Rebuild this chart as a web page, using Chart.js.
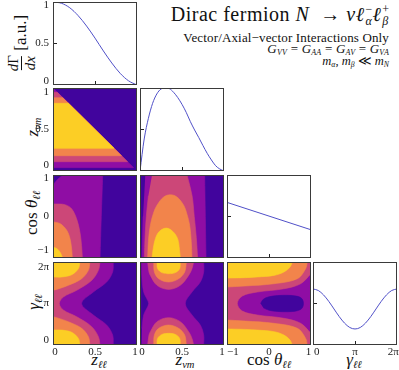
<!DOCTYPE html>
<html>
<head>
<meta charset="utf-8">
<script src="https://cdn.jsdelivr.net/npm/chart.js@4.4.1/dist/chart.umd.min.js"></script>
<style>
  body { margin: 0; background: #fff; }
  #fig { position: relative; width: 399px; height: 370px; overflow: hidden; font-family: "Liberation Serif", "DejaVu Serif", serif; color: #111; }
  .box { position: absolute; }
  .frame { position: absolute; border: 1px solid #3a3a3a; box-sizing: border-box; pointer-events: none; }
  .txt { position: absolute; white-space: nowrap; line-height: 1; }
  .head { right: 10px; text-align: right; }
  .ss { display: inline-block; font-size: 0.6em; line-height: 1; vertical-align: -0.3em; text-align: left; margin-left: 1px; letter-spacing: 0; }
  .ss > span { display: block; }
  .xt { font-size: 17px; transform: translateX(-50%); }
  .yt { font-size: 17px; transform: translate(-50%, -50%) rotate(-90deg); }
  sub { font-size: 0.62em; vertical-align: -0.3em; line-height: 0; }
  .frac { display: inline-flex; flex-direction: column; align-items: center; vertical-align: middle; font-size: 15px; }
  .frac span + span { border-top: 1px solid #111; padding-top: 1px; }
</style>
</head>
<body>
<div id="fig">
  <div class="txt head" style="top:3px;font-size:20px;letter-spacing:0.5px">Dirac fermion <i>N</i>&nbsp; → <i>ν</i><i>ℓ</i><span class="ss"><span>−</span><span><i>α</i></span></span><i>ℓ</i><span class="ss"><span>+</span><span><i>β</i></span></span></div>
  <div class="txt head" style="top:31px;font-size:13px;letter-spacing:0.15px">Vector/Axial−vector Interactions Only</div>
  <div class="txt head" style="top:42px;font-size:13px;letter-spacing:0.2px"><i>G</i><sub><i>VV</i></sub> = <i>G</i><sub><i>AA</i></sub> = <i>G</i><sub><i>AV</i></sub> = <i>G</i><sub><i>VA</i></sub></div>
  <div class="txt head" style="top:55px;font-size:12.5px"><i>m</i><sub><i>α</i></sub>, <i>m</i><sub><i>β</i></sub> ≪ <i>m</i><sub><i>N</i></sub></div>

  <div class="txt xt" style="left:99px;top:351px"><i>z</i><sub><i>ℓℓ</i></sub></div>
  <div class="txt xt" style="left:185px;top:351px"><i>z</i><sub><i>νm</i></sub></div>
  <div class="txt xt" style="left:269px;top:351px">cos <i>θ</i><sub><i>ℓℓ</i></sub></div>
  <div class="txt xt" style="left:354px;top:351px"><i>γ</i><sub><i>ℓℓ</i></sub></div>

  <div class="txt yt" style="left:22px;top:43px"><span class="frac"><span><i>d</i>Γ</span><span><i>dx</i></span></span> [a.u.]</div>
  <div class="txt yt" style="left:32px;top:127px"><i>z</i><sub><i>νm</i></sub></div>
  <div class="txt yt" style="left:31px;top:213px">cos <i>θ</i><sub><i>ℓℓ</i></sub></div>
  <div class="txt yt" style="left:33px;top:302px"><i>γ</i><sub><i>ℓℓ</i></sub></div>
</div>
<script>
// ---- 1D distributions (diagonal) ----
const zllGrid = [0, 0.1, 0.2, 0.3, 0.4, 0.5, 0.6, 0.7, 0.8, 0.9, 1];
const zllDensity = [1.0, 0.985, 0.93, 0.835, 0.71, 0.565, 0.41, 0.265, 0.14, 0.05, 0.0];

const znmGrid = [0, 0.05, 0.1, 0.15, 0.2, 0.25, 0.3, 0.35, 0.4, 0.45, 0.5,
                 0.55, 0.6, 0.65, 0.7, 0.75, 0.8, 0.85, 0.9, 0.95, 1];
const znmDensity = [0, 0.386, 0.635, 0.815, 0.928, 0.988, 1.0, 0.992, 0.948, 0.884, 0.803,
                    0.707, 0.594, 0.494, 0.402, 0.305, 0.213, 0.133, 0.064, 0.024, 0.0];

const cosGrid = [-1, 0, 1];
const cosDensity = [0.67, 0.505, 0.34];

const gammaGrid = [0, 0.393, 0.785, 1.178, 1.571, 1.963, 2.356, 2.749, 3.142,
                   3.534, 3.927, 4.320, 4.712, 5.105, 5.498, 5.890, 6.283];
const gammaDensity = [0.675, 0.657, 0.604, 0.526, 0.434, 0.342, 0.264, 0.211, 0.193,
                      0.211, 0.264, 0.342, 0.434, 0.526, 0.604, 0.657, 0.675];

// ---- 2D filled contours: [level, outline points] in paint order ----
const zllZnmRegions = [
  [1, [[0, 0.04], [0.96, 0.04], [0, 1]]],
  [2, [[0, 0.112], [0.888, 0.112], [0.052, 0.948], [0, 0.948]]],
  [3, [[0, 0.184], [0.816, 0.184], [0.117, 0.883], [0, 0.883]]],
  [4, [[0, 0.273], [0.727, 0.273], [0.184, 0.816], [0, 0.816]]]
];

const zllCosRegions = [
  [1, [[0, 0.75], [0.04, 0.86], [0.08, 0.94], [0.115, 1], [0.592, 1], [0.575, 0], [0.56, -1], [0, -1]]],
  [2, [[0, 0.30], [0.08, 0.30], [0.15, 0.28], [0.22, 0.19], [0.28, -0.05], [0.32, -0.37], [0.34, -0.7], [0.35, -1], [0, -1]]],
  [3, [[0, -0.13], [0.083, -0.17], [0.163, -0.33], [0.202, -0.53], [0.222, -0.78], [0.23, -1], [0, -1]]],
  [4, [[0, -0.735], [0.05, -0.78], [0.09, -0.88], [0.115, -1], [0, -1]]]
];

const znmCosRegions = [
  [1, [[0.063, 1], [0.77, 1], [0.778, 0], [0.786, -1], [0.024, -1], [0.036, 0]]],
  [2, [[0.143, 1], [0.56, 1], [0.62, 0.5], [0.646, 0], [0.67, -0.5], [0.686, -1], [0.052, -1], [0.06, -0.5], [0.075, 0], [0.1, 0.5]]],
  [3, [[0.091, -1], [0.1, -0.6], [0.123, -0.21], [0.16, 0.08], [0.202, 0.27], [0.282, 0.47], [0.361, 0.525], [0.44, 0.47], [0.52, 0.27], [0.56, 0.05], [0.591, -0.21], [0.61, -0.6], [0.619, -1]]],
  [4, [[0.143, -1], [0.155, -0.8], [0.183, -0.535], [0.23, -0.36], [0.313, -0.28], [0.39, -0.36], [0.448, -0.535], [0.47, -0.8], [0.48, -1]]]
];

const zllGammaRegions = [
  [1, [[0, 0], [0.718, 0], [0.71, 0.75], [0.639, 1.51], [0.48, 2.27], [0.341, 3.142], [0.48, 4.01], [0.639, 4.77], [0.71, 5.53], [0.718, 6.283], [0, 6.283]]],
  [2, [[0, 0], [0.56, 0], [0.54, 0.63], [0.46, 1.39], [0.282, 2.14], [0.123, 2.65], [0.075, 3.142], [0.123, 3.63], [0.282, 4.14], [0.46, 4.89], [0.54, 5.65], [0.56, 6.283], [0, 6.283]]],
  [3, [[0, 4.14], [0.044, 4.21], [0.183, 4.52], [0.341, 5.02], [0.421, 5.65], [0.44, 6.283], [0, 6.283]]],
  [3, [[0, 0], [0.44, 0], [0.421, 0.63], [0.341, 1.26], [0.183, 1.76], [0.044, 2.07], [0, 2.14]]],
  [4, [[0, 5.15], [0.103, 5.15], [0.222, 5.32], [0.302, 5.78], [0.321, 6.283], [0, 6.283]]],
  [4, [[0, 0], [0.321, 0], [0.302, 0.5], [0.222, 0.96], [0.103, 1.13], [0, 1.13]]]
];

const znmGammaRegions = [
  [1, [[0.02, 0], [0.758, 0], [0.758, 0.75], [0.718, 1.51], [0.619, 2.27], [0.54, 3.142], [0.619, 4.01], [0.718, 4.77], [0.758, 5.53], [0.758, 6.283],
       [0.02, 6.283], [0.024, 5.02], [0.044, 4.01], [0.091, 3.38], [0.103, 3.142], [0.091, 2.9], [0.044, 2.27], [0.024, 1.26]]],
  [2, [[0.091, 6.283], [0.107, 5.53], [0.123, 5.27], [0.202, 4.52], [0.341, 4.21], [0.48, 4.52], [0.579, 5.27], [0.619, 5.78], [0.639, 6.283]]],
  [2, [[0.091, 0], [0.107, 0.75], [0.123, 1.01], [0.202, 1.76], [0.341, 2.07], [0.48, 1.76], [0.579, 1.01], [0.619, 0.5], [0.639, 0]]],
  [3, [[0.163, 6.283], [0.171, 5.53], [0.222, 5.02], [0.341, 4.77], [0.46, 5.02], [0.532, 5.53], [0.552, 6.283]]],
  [3, [[0.163, 0], [0.171, 0.75], [0.222, 1.26], [0.341, 1.51], [0.46, 1.26], [0.532, 0.75], [0.552, 0]]],
  [4, [[0.202, 6.283], [0.21, 5.78], [0.262, 5.48], [0.341, 5.40], [0.421, 5.48], [0.472, 5.78], [0.48, 6.283]]],
  [4, [[0.202, 0], [0.21, 0.5], [0.262, 0.8], [0.341, 0.88], [0.421, 0.8], [0.472, 0.5], [0.48, 0]]]
];

const cosGammaRegions = [
  [0, [[-0.2, 3.142], [-0.14, 3.45], [0, 3.65], [0.2, 3.74], [0.45, 3.76], [0.65, 3.7], [0.78, 3.52], [0.82, 3.142],
       [0.78, 2.76], [0.65, 2.58], [0.45, 2.52], [0.2, 2.54], [0, 2.63], [-0.14, 2.83]]],
  [2, [[-1, 0], [1, 0], [1, 0.88], [0.754, 1.64], [0.357, 2.02], [-0.278, 2.27], [-0.635, 2.57], [-0.754, 3.142],
       [-0.635, 3.71], [-0.278, 4.01], [0.357, 4.26], [0.754, 4.64], [1, 5.40], [1, 6.283], [-1, 6.283]]],
  [3, [[-1, 4.39], [-0.563, 4.47], [0.119, 4.64], [0.675, 5.02], [0.873, 5.78], [0.913, 6.283], [-1, 6.283]]],
  [3, [[-1, 0], [0.913, 0], [0.873, 0.5], [0.675, 1.26], [0.119, 1.64], [-0.563, 1.81], [-1, 1.89]]],
  [4, [[-1, 5.07], [-0.563, 5.1], [-0.278, 5.15], [0.119, 5.27], [0.357, 5.53], [0.5, 5.9], [0.556, 6.283], [-1, 6.283]]],
  [4, [[-1, 0], [0.556, 0], [0.5, 0.38], [0.357, 0.75], [0.119, 1.01], [-0.278, 1.13], [-0.563, 1.18], [-1, 1.21]]]
];

// ---- tick labels ----
const zLabels = ['0', '0.5', '1'];
const cosLabels = ['\u22121', '0', '1'];
const gammaLabels = ['0', 'π', '2π'];

const LEVEL_COLORS = ['#41049d', '#8f0da4', '#cc4778', '#f2844b', '#fcce25'];
const CURVE_COLOR = '#5050c8';
const TICK_FONT = { family: '"Liberation Serif", "DejaVu Serif", serif', size: 11 };

// axis ranges; labels sit slightly inside the frame like the original
const AXES = {
  zll:   { min: 0, max: 1, labels: zLabels, xAt: [0.025, 0.5, 0.975], yAt: [0.07, 0.5, 0.955] },
  znm:   { min: 0, max: 1, labels: zLabels, xAt: [0.025, 0.5, 0.975], yAt: [0.07, 0.5, 0.955] },
  cos:   { min: -1, max: 1, labels: cosLabels, xAt: [-0.86, 0, 0.94], yAt: [-0.82, 0, 0.92] },
  gamma: { min: 0, max: 6.283, labels: gammaLabels, xAt: [0.28, 3.142, 6.0], yAt: [0.38, 3.142, 5.93] },
  dens:  { min: 0, max: 1, labels: zLabels, yAt: [0.049, 0.5, 0.963] }
};

const colLeft = [53, 140, 227, 313];
const rowTop = [2, 88, 175, 262];
const PW = 84, PH = 83;

const panels = [
  { r: 0, c: 0, x: 'zll', y: 'dens', grid: zllGrid, vals: zllDensity },
  { r: 1, c: 0, x: 'zll', y: 'znm', base: 0, regions: zllZnmRegions, tension: 0 },
  { r: 1, c: 1, x: 'znm', y: 'dens', grid: znmGrid, vals: znmDensity },
  { r: 2, c: 0, x: 'zll', y: 'cos', base: 0, regions: zllCosRegions, tension: 0.35 },
  { r: 2, c: 1, x: 'znm', y: 'cos', base: 0, regions: znmCosRegions, tension: 0.35 },
  { r: 2, c: 2, x: 'cos', y: 'dens', grid: cosGrid, vals: cosDensity },
  { r: 3, c: 0, x: 'zll', y: 'gamma', base: 0, regions: zllGammaRegions, tension: 0.35 },
  { r: 3, c: 1, x: 'znm', y: 'gamma', base: 0, regions: znmGammaRegions, tension: 0.35 },
  { r: 3, c: 2, x: 'cos', y: 'gamma', base: 1, regions: cosGammaRegions, tension: 0.35 },
  { r: 3, c: 3, x: 'gamma', y: 'dens', grid: gammaGrid, vals: gammaDensity }
];

// corner/edge points are doubled so the spline stays straight along the frame
function outline(pts, xa, ya) {
  const out = [];
  pts.forEach(([x, y]) => {
    out.push({ x, y });
    if (x <= xa.min || x >= xa.max || y <= ya.min || y >= ya.max) out.push({ x, y });
  });
  return out;
}

function axis(pos, def, at, showLabels, size) {
  return {
    type: 'linear',
    position: pos,
    min: def.min,
    max: def.max,
    afterBuildTicks: s => { s.ticks = at.map(v => ({ value: v })); },
    afterFit: s => {
      if (pos === 'left') s.width = size; else s.height = size;
      s.paddingTop = s.paddingBottom = s.paddingLeft = s.paddingRight = 0;
    },
    border: { display: false },
    grid: {
      drawOnChartArea: false,
      drawTicks: true,
      tickLength: -4,
      tickWidth: 1,
      tickColor: ctx => (ctx.index === 1 ? '#222' : 'rgba(0,0,0,0)')
    },
    ticks: {
      display: showLabels,
      autoSkip: false,
      maxRotation: 0,
      padding: pos === 'left' ? 8 : 5,
      color: '#222',
      font: TICK_FONT,
      callback: (v, i) => def.labels[i]
    }
  };
}

const fig = document.getElementById('fig');

panels.forEach(p => {
  const xa = AXES[p.x], ya = AXES[p.y];
  const ML = p.c === 0 ? 52 : 4, MB = p.r === 3 ? 20 : 4, MT = 6, MR = 8;
  const box = document.createElement('div');
  box.className = 'box';
  box.style.left = (colLeft[p.c] - ML) + 'px';
  box.style.top = (rowTop[p.r] - MT) + 'px';
  box.style.width = (ML + PW + MR) + 'px';
  box.style.height = (MT + PH + MB) + 'px';
  const canvas = document.createElement('canvas');
  box.appendChild(canvas);
  fig.appendChild(box);

  let datasets;
  if (p.regions) {
    const all = [[p.base, [[xa.min, ya.min], [xa.max, ya.min], [xa.max, ya.max], [xa.min, ya.max]]]].concat(p.regions);
    datasets = all.map((reg, k) => ({
      data: outline(reg[1], xa, ya),
      fill: 'shape',
      backgroundColor: LEVEL_COLORS[reg[0]],
      borderColor: LEVEL_COLORS[reg[0]],
      borderWidth: 0.6,
      pointRadius: 0,
      tension: p.tension,
      order: all.length - k
    }));
  } else {
    datasets = [{
      data: p.grid.map((x, i) => ({ x, y: p.vals[i] })),
      borderColor: CURVE_COLOR,
      borderWidth: 1,
      pointRadius: 0,
      fill: false,
      cubicInterpolationMode: 'monotone'
    }];
  }

  new Chart(canvas, {
    type: 'line',
    data: { datasets },
    options: {
      responsive: true,
      maintainAspectRatio: false,
      animation: false,
      events: [],
      layout: { padding: { top: MT, right: MR, left: 0, bottom: 0 } },
      plugins: { legend: { display: false }, tooltip: { enabled: false } },
      scales: {
        x: axis('bottom', xa, xa.xAt || ya.yAt, p.r === 3, MB),
        y: axis('left', ya, ya.yAt, p.c === 0, ML)
      }
    }
  });

  const frame = document.createElement('div');
  frame.className = 'frame';
  frame.style.left = colLeft[p.c] + 'px';
  frame.style.top = rowTop[p.r] + 'px';
  frame.style.width = PW + 'px';
  frame.style.height = PH + 'px';
  fig.appendChild(frame);
});
</script>
</body>
</html>
